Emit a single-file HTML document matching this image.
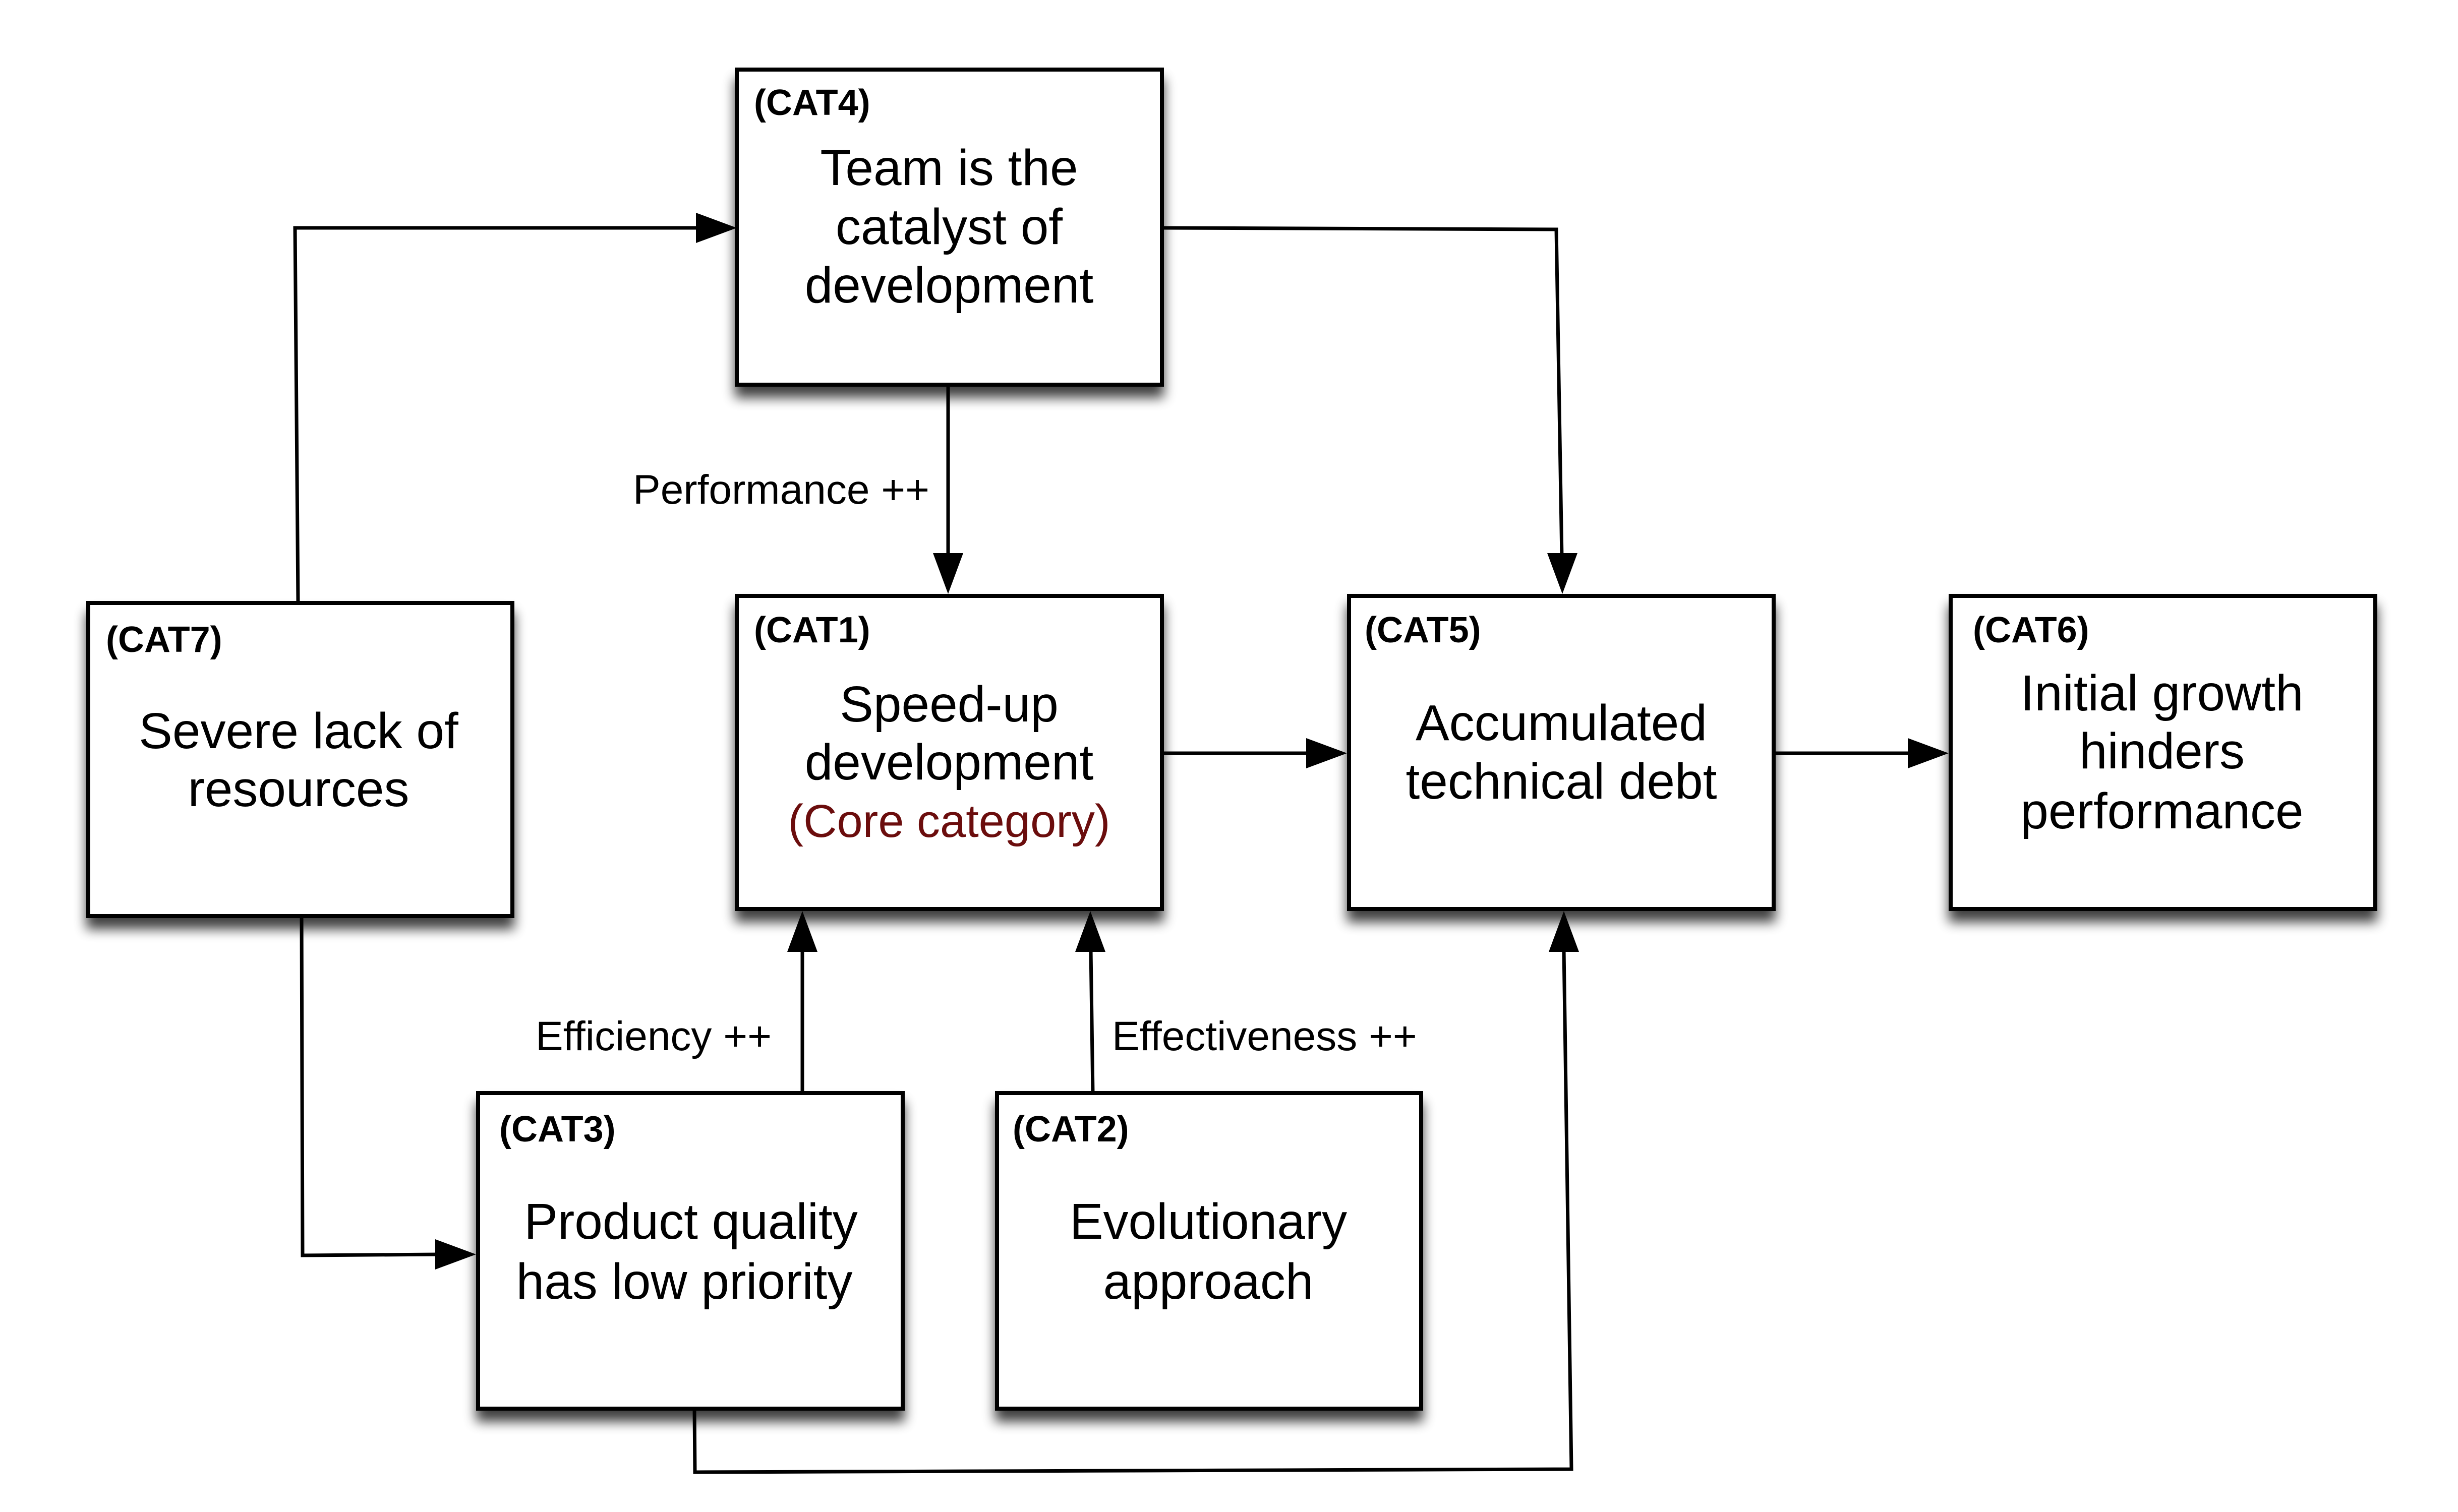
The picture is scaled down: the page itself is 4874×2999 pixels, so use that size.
<!DOCTYPE html>
<html><head><meta charset="utf-8"><style>
html,body{margin:0;padding:0;background:#fff;}
svg{display:block;}
text{font-family:"Liberation Sans",Arial,sans-serif;fill:#000;}
.t{font-weight:bold;font-size:72px;}
.b{font-size:100px;text-anchor:middle;}
.l{font-size:82px;}
</style></head><body>
<svg width="4874" height="2999" viewBox="0 0 4874 2999" xmlns="http://www.w3.org/2000/svg">
<defs>
<filter id="sh" x="-10%" y="-10%" width="120%" height="130%">
<feGaussianBlur in="SourceAlpha" stdDeviation="12"/>
<feOffset dx="0" dy="22" result="o"/>
<feComponentTransfer><feFuncA type="linear" slope="0.75"/></feComponentTransfer>
<feMerge><feMergeNode/><feMergeNode in="SourceGraphic"/></feMerge>
</filter>
</defs>
<g fill="#fff" stroke="#000" stroke-width="8" filter="url(#sh)">
<rect x="1461" y="138" width="843" height="625"/>
<rect x="1461" y="1182" width="843" height="621"/>
<rect x="2675" y="1182" width="842" height="621"/>
<rect x="3868" y="1182" width="842" height="621"/>
<rect x="175" y="1196" width="841" height="621"/>
<rect x="948" y="2168" width="842" height="626"/>
<rect x="1977" y="2168" width="841" height="626"/>
</g>
<g fill="none" stroke="#000" stroke-width="7">
<polyline points="591,1193 585,452 1390,452"/>
<polyline points="2304,452 3086,455 3097,1105"/>
<line x1="1880" y1="763" x2="1880" y2="1105"/>
<line x1="2304" y1="1494" x2="2600" y2="1494"/>
<line x1="3517" y1="1494" x2="3793" y2="1494"/>
<polyline points="598,1817 600,2490 873,2488"/>
<line x1="1591" y1="2168" x2="1591" y2="1885"/>
<line x1="2167" y1="2168" x2="2163" y2="1885"/>
<polyline points="1377,2794 1378,2920 3116,2914 3101,1885"/>
</g>
<g fill="#000">
<polygon points="1461,452 1380,422 1380,482"/>
<polygon points="3098,1178 3068,1097 3128,1097"/>
<polygon points="1880,1178 1850,1097 1910,1097"/>
<polygon points="2671,1494 2590,1464 2590,1524"/>
<polygon points="3864,1494 3783,1464 3783,1524"/>
<polygon points="944,2488 863,2458 863,2518"/>
<polygon points="1591,1807 1561,1888 1621,1888"/>
<polygon points="2162,1807 2132,1888 2192,1888"/>
<polygon points="3101,1807 3071,1888 3131,1888"/>
</g>
<text class="t" x="1495" y="228">(CAT4)</text>
<text class="b" x="1882" y="367">Team is the</text>
<text class="b" x="1882" y="484">catalyst of</text>
<text class="b" x="1882" y="600">development</text>
<text class="t" x="1495" y="1274">(CAT1)</text>
<text class="b" x="1882" y="1431">Speed-up</text>
<text class="b" x="1882" y="1546">development</text>
<text class="b" x="1882" y="1660" style="fill:#6b0d0d;font-size:92px">(Core category)</text>
<text class="t" x="2706" y="1274">(CAT5)</text>
<text class="b" x="3096" y="1468">Accumulated</text>
<text class="b" x="3096" y="1584">technical debt</text>
<text class="t" x="3912" y="1274">(CAT6)</text>
<text class="b" x="4287" y="1409">Initial growth</text>
<text class="b" x="4287" y="1524">hinders</text>
<text class="b" x="4287" y="1643">performance</text>
<text class="t" x="210" y="1293">(CAT7)</text>
<text class="b" x="592" y="1484">Severe lack of</text>
<text class="b" x="592" y="1599">resources</text>
<text class="t" x="990" y="2264">(CAT3)</text>
<text class="b" x="1370" y="2457">Product quality</text>
<text class="b" x="1357" y="2576">has low priority</text>
<text class="t" x="2008" y="2264">(CAT2)</text>
<text class="b" x="2396" y="2457">Evolutionary</text>
<text class="b" x="2396" y="2576">approach</text>
<text class="l" x="1255" y="999">Performance ++</text>
<text class="l" x="1062" y="2083">Efficiency ++</text>
<text class="l" x="2205" y="2083">Effectiveness ++</text>
</svg>
</body></html>
